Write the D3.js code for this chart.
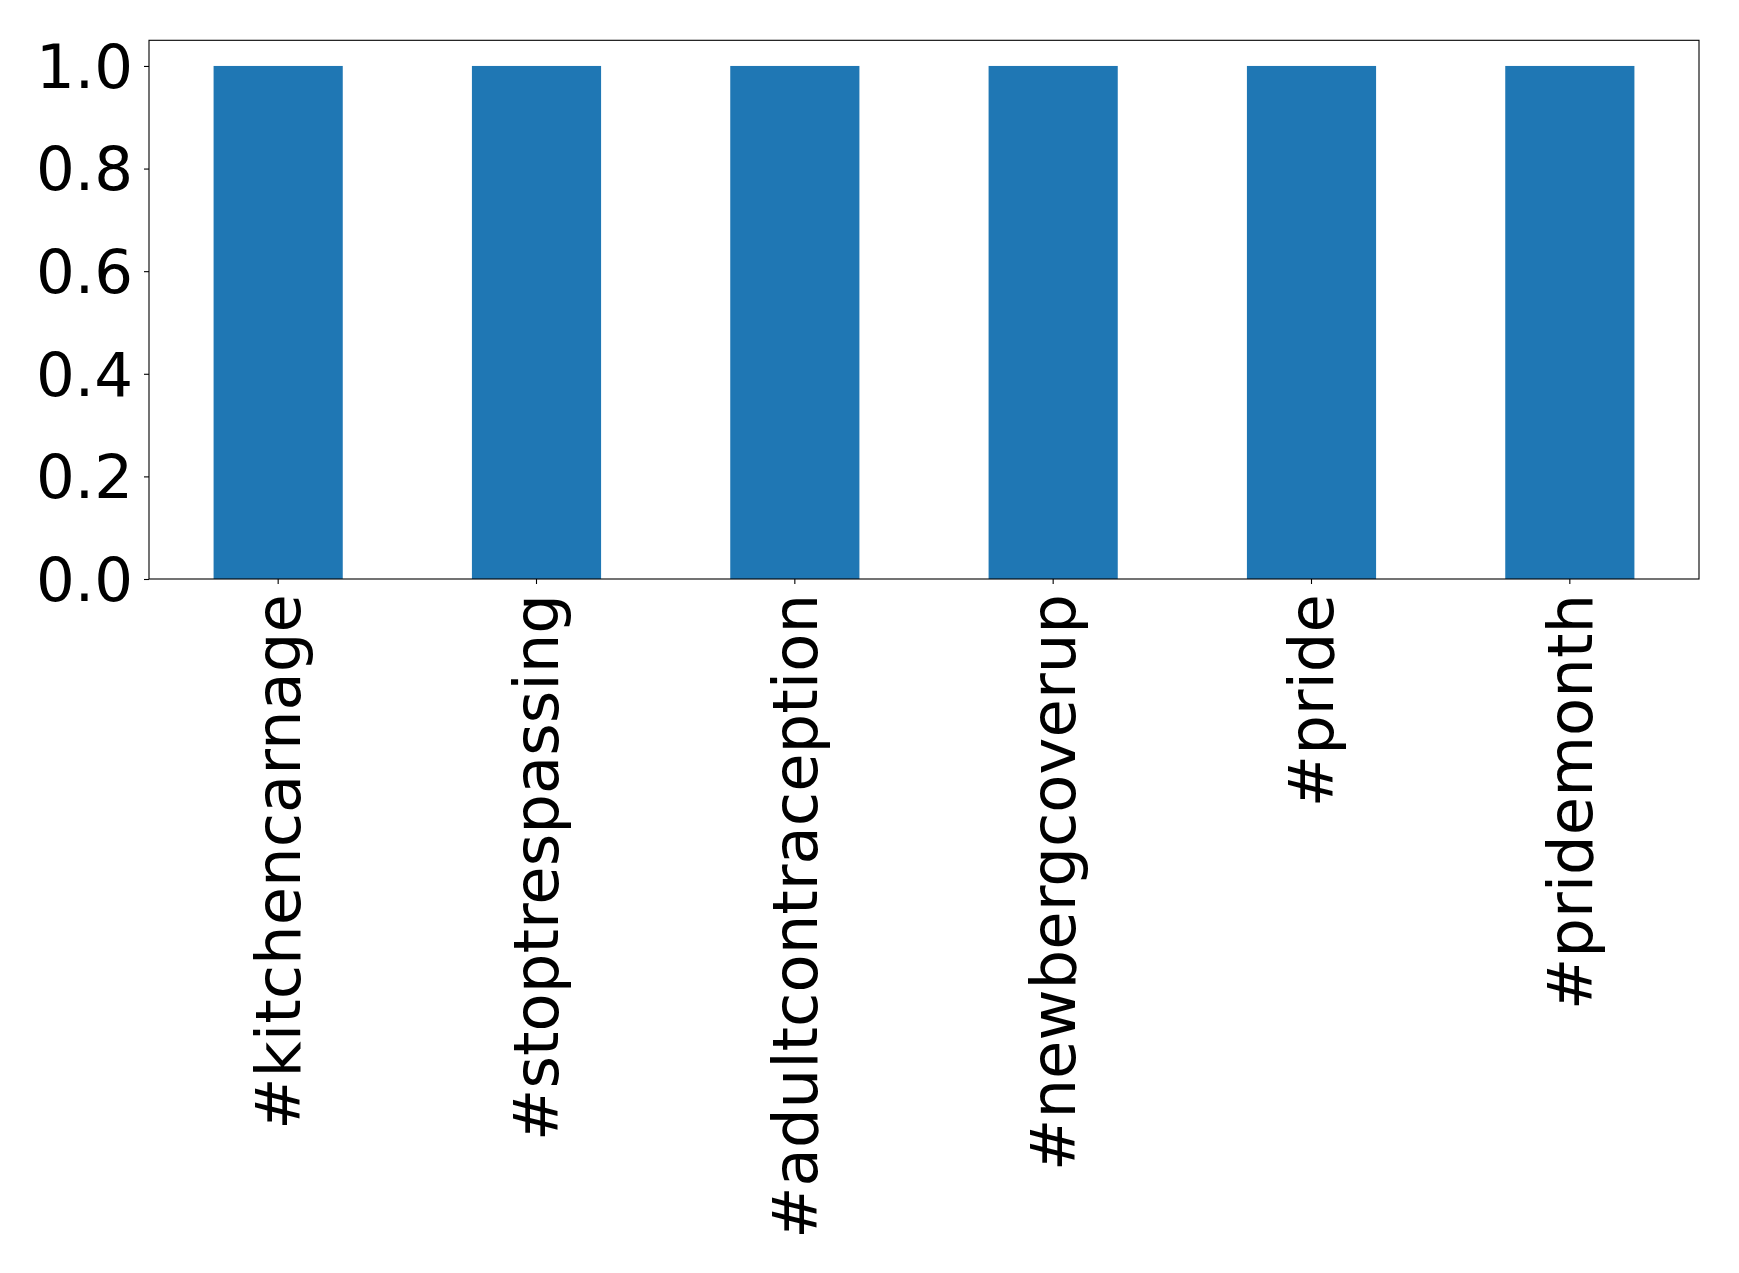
<!DOCTYPE html>
<html><head><meta charset="utf-8">
<script src="https://cdn.jsdelivr.net/npm/d3@7"></script>
<style>body{margin:0;background:#fff}svg{display:block}</style>
</head><body>
<script>
const categories = ["#kitchencarnage","#stoptrespassing","#adultcontraception","#newbergcoverup","#pride","#pridemonth"];
const values = [1,1,1,1,1,1];
const yTicks = [0,0.2,0.4,0.6,0.8,1.0];

const W=1739,H=1273;
const L=149,R=1699,T=40.3,B=579;
const svg=d3.select("body").append("svg").attr("width",W).attr("height",H);
const x=d3.scaleBand().domain(categories).range([L,R]).paddingInner(0.5).paddingOuter(0.25);
const y=d3.scaleLinear().domain([0,1.05]).range([B,T]);

svg.selectAll("rect.bar").data(values).join("rect").attr("class","bar")
  .attr("x",(d,i)=>x(categories[i])).attr("width",x.bandwidth())
  .attr("y",d=>y(d)).attr("height",d=>B-y(d)).attr("fill","#1f77b4");

svg.append("rect").attr("x",L).attr("y",T).attr("width",R-L).attr("height",B-T)
  .attr("fill","none").attr("stroke","#000").attr("stroke-width",1.1);

const ya=svg.append("g").attr("transform",`translate(${L},0)`)
  .call(d3.axisLeft(y).tickValues(yTicks).tickFormat(d3.format(".1f")).tickSize(5).tickPadding(11));
ya.select(".domain").remove();
ya.selectAll("line").attr("stroke","#000").attr("stroke-width",1.1);
ya.selectAll("text").attr("font-family","DejaVu Sans").attr("font-size",61).attr("fill","#000").attr("dy","0.35em");

const xa=svg.append("g").attr("transform",`translate(0,${B})`)
  .call(d3.axisBottom(x).tickSize(5).tickPadding(10));
xa.select(".domain").remove();
xa.selectAll("line").attr("stroke","#000").attr("stroke-width",1.1);
xa.selectAll("text").attr("font-family","DejaVu Sans").attr("font-size",62.5).attr("fill","#000")
  .attr("text-anchor","end").attr("dy","0.35em")
  .attr("transform","rotate(-90)").attr("x",-15).attr("y",0);
</script>
</body></html>
